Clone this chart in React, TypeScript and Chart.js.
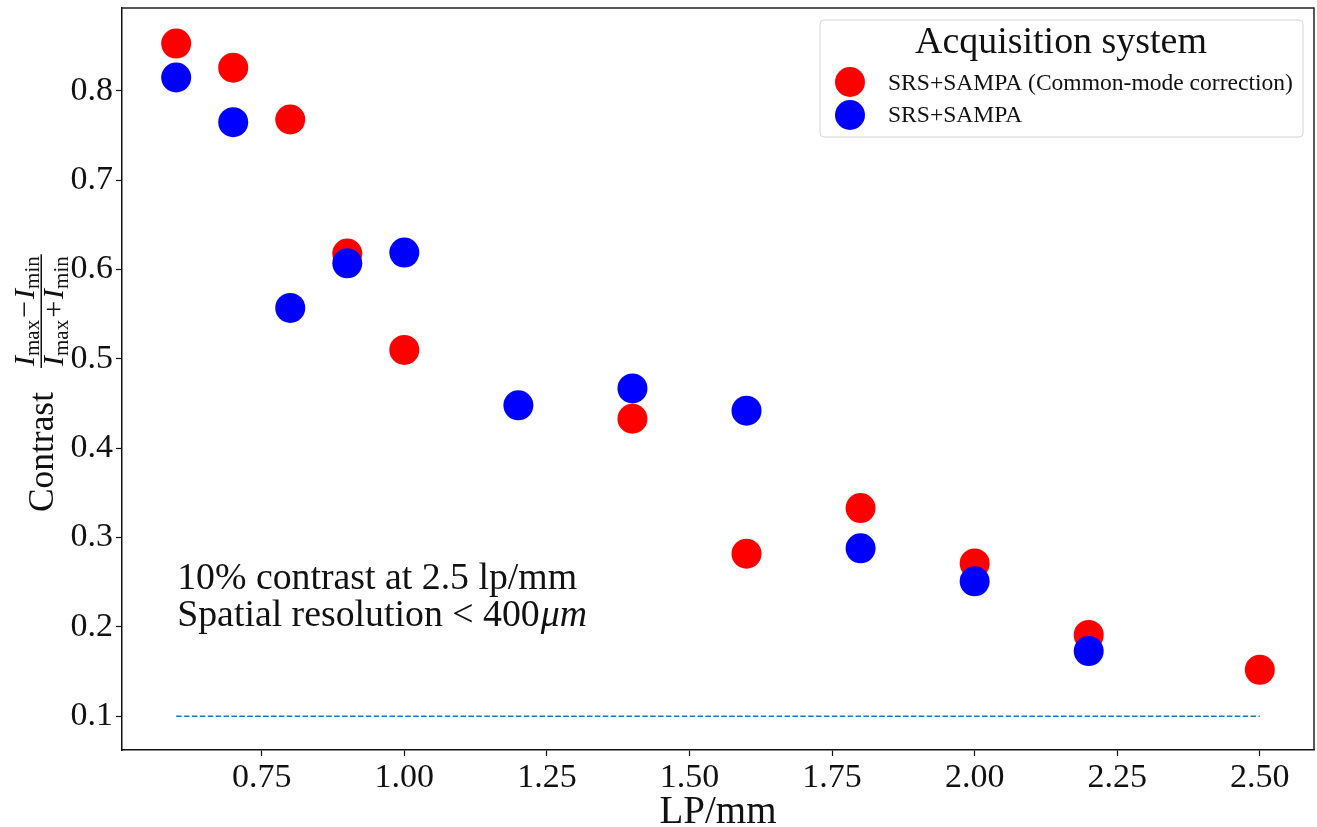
import { useEffect, useRef } from "react";
import { Chart, registerables } from "chart.js";

Chart.register(...registerables);

// ---------- data ----------
const correctedLp = [0.6, 0.7, 0.8, 0.9, 1.0, 1.4, 1.6, 1.8, 2.0, 2.2, 2.5];
const correctedContrast = [0.853, 0.826, 0.768, 0.618, 0.51, 0.433, 0.282, 0.333, 0.271, 0.191, 0.152];
const rawLp = [0.6, 0.7, 0.8, 0.9, 1.0, 1.2, 1.4, 1.6, 1.8, 2.0, 2.2];
const rawContrast = [0.815, 0.765, 0.557, 0.607, 0.619, 0.448, 0.467, 0.442, 0.288, 0.251, 0.173];
const thresholdLp = [0.6, 2.5];
const thresholdContrast = [0.1, 0.1];
const xTickValues = [0.75, 1.0, 1.25, 1.5, 1.75, 2.0, 2.25, 2.5];
const yTickValues = [0.1, 0.2, 0.3, 0.4, 0.5, 0.6, 0.7, 0.8];
const seriesLabels = ["SRS+SAMPA (Common-mode correction)", "SRS+SAMPA"];
const seriesColors = ["#ff0000", "#0000ff"];
const legendTitle = "Acquisition system";
const xAxisTitle = "LP/mm";
const yAxisWord = "Contrast";
const noteLine1 = "10% contrast at 2.5 lp/mm";
const noteLine2a = "Spatial resolution < 400";
const noteLine2b = "μm";

const FONT = "'Liberation Serif', 'DejaVu Serif', serif";

function fitFont(ctx: CanvasRenderingContext2D, text: string, width: number, style = "") {
  ctx.font = `${style} 100px ${FONT}`;
  const w = ctx.measureText(text).width;
  return (100 * width) / w;
}

const decorPlugin = {
  id: "decor",
  afterDraw(chart: any) {
    const ctx: CanvasRenderingContext2D = chart.ctx;
    const { chartArea } = chart;
    const xs = chart.scales.x;
    const ys = chart.scales.y;
    ctx.save();

    // top & right frame
    ctx.strokeStyle = "#222";
    ctx.lineWidth = 1.5;
    ctx.beginPath();
    ctx.moveTo(chartArea.left, chartArea.top);
    ctx.lineTo(chartArea.right, chartArea.top);
    ctx.lineTo(chartArea.right, chartArea.bottom);
    ctx.stroke();

    ctx.fillStyle = "#111";
    ctx.textBaseline = "alphabetic";

    // x axis title
    const xs1 = fitFont(ctx, xAxisTitle, 117);
    ctx.font = `${xs1}px ${FONT}`;
    ctx.textAlign = "center";
    ctx.fillText(xAxisTitle, (chartArea.left + chartArea.right) / 2, 823);

    // y axis title (rotated)
    ctx.save();
    ctx.translate(0, 512);
    ctx.rotate(-Math.PI / 2);
    ctx.textAlign = "left";
    const cs = fitFont(ctx, yAxisWord, 120);
    ctx.font = `${cs}px ${FONT}`;
    ctx.fillText(yAxisWord, 0, 53);

    const big = 30;
    const small = 21;
    const drawSeq = (pieces: any[], u0: number, base: number, draw: boolean) => {
      let u = u0;
      for (const p of pieces) {
        ctx.font = p.font;
        if (draw) ctx.fillText(p.t, u + (p.pre || 0), base + (p.dy || 0));
        u += ctx.measureText(p.t).width + (p.pre || 0) + (p.post || 0);
      }
      return u - u0;
    };
    const num = [
      { t: "I", font: `italic ${big}px ${FONT}` },
      { t: "max", font: `${small}px ${FONT}`, dy: 5 },
      { t: "−", font: `${big}px ${FONT}`, pre: 2, post: 2 },
      { t: "I", font: `italic ${big}px ${FONT}` },
      { t: "min", font: `${small}px ${FONT}`, dy: 5 },
    ];
    const den = [
      { t: "I", font: `italic ${big}px ${FONT}` },
      { t: "max", font: `${small}px ${FONT}`, dy: 5 },
      { t: "+", font: `${big}px ${FONT}`, pre: 2, post: 2 },
      { t: "I", font: `italic ${big}px ${FONT}` },
      { t: "min", font: `${small}px ${FONT}`, dy: 5 },
    ];
    const nw = drawSeq(num, 0, 0, false);
    const dw = drawSeq(den, 0, 0, false);
    const fracStart = 144;
    const barW = Math.max(nw, dw) + 4;
    drawSeq(num, fracStart + (barW - nw) / 2, 34, true);
    drawSeq(den, fracStart + (barW - dw) / 2, 63, true);
    ctx.fillRect(fracStart, 40.5, barW, 1.5);
    ctx.restore();

    // annotation
    ctx.textAlign = "left";
    const ax = xs.getPixelForValue(0.6) + 1;
    const as1 = fitFont(ctx, noteLine1, 400);
    ctx.font = `${as1}px ${FONT}`;
    ctx.fillText(noteLine1, ax, ys.getPixelForValue(0.242));
    const y2 = ys.getPixelForValue(0.2007);
    ctx.fillText(noteLine2a, ax, y2);
    const w2 = ctx.measureText(noteLine2a).width;
    ctx.font = `italic ${as1}px ${FONT}`;
    ctx.fillText(noteLine2b, ax + w2 + 1, y2);

    // legend
    const bx = 820, by = 20, bw = 483, bh = 117;
    ctx.beginPath();
    ctx.roundRect(bx, by, bw, bh, 4);
    ctx.fillStyle = "rgba(255,255,255,0.85)";
    ctx.fill();
    ctx.strokeStyle = "#d4d4d4";
    ctx.lineWidth = 1;
    ctx.stroke();
    ctx.fillStyle = "#111";
    const ts = fitFont(ctx, legendTitle, 292);
    ctx.font = `${ts}px ${FONT}`;
    ctx.textAlign = "center";
    ctx.fillText(legendTitle, 1061, 53);
    const is = fitFont(ctx, seriesLabels[0], 405);
    ctx.textAlign = "left";
    const rowY = [82, 115];
    const baseY = [90, 122];
    for (let i = 0; i < 2; i++) {
      ctx.beginPath();
      ctx.arc(850, rowY[i], 15, 0, Math.PI * 2);
      ctx.fillStyle = seriesColors[i];
      ctx.fill();
      ctx.fillStyle = "#111";
      ctx.font = `${is}px ${FONT}`;
      ctx.fillText(seriesLabels[i], 888, baseY[i]);
    }
    ctx.restore();
  },
};

function zeroPad(s: any) {
  s.paddingTop = 0;
  s.paddingBottom = 0;
  s.paddingLeft = 0;
  s.paddingRight = 0;
}

export default function App() {
  const ref = useRef<HTMLCanvasElement | null>(null);
  useEffect(() => {
    document.body.style.margin = "0";
    const canvas = ref.current!;
    const chart = new Chart(canvas, {
      type: "scatter",
      data: {
        datasets: [
          {
            type: "line",
            label: "threshold",
            data: thresholdLp.map((x, i) => ({ x, y: thresholdContrast[i] })),
            borderColor: "#1f77b4",
            borderWidth: 1.5,
            borderDash: [5.5, 2.4],
            pointRadius: 0,
            fill: false,
            order: 3,
          } as any,
          {
            label: seriesLabels[0],
            data: correctedLp.map((x, i) => ({ x, y: correctedContrast[i] })),
            backgroundColor: seriesColors[0],
            borderColor: seriesColors[0],
            borderWidth: 0,
            pointRadius: 15,
            pointHoverRadius: 15,
            order: 2,
          },
          {
            label: seriesLabels[1],
            data: rawLp.map((x, i) => ({ x, y: rawContrast[i] })),
            backgroundColor: seriesColors[1],
            borderColor: seriesColors[1],
            borderWidth: 0,
            pointRadius: 15,
            pointHoverRadius: 15,
            order: 1,
          },
        ],
      },
      options: {
        animation: false,
        responsive: true,
        maintainAspectRatio: false,
        layout: { autoPadding: false, padding: { top: 8, right: 3, left: 0, bottom: 0 } },
        plugins: {
          legend: { display: false },
          tooltip: { enabled: false },
        },
        scales: {
          x: {
            type: "linear",
            min: 0.505,
            max: 2.595,
            afterBuildTicks: (s: any) => {
              s.ticks = xTickValues.map((v) => ({ value: v }));
            },
            afterFit: (s: any) => {
              s.height = 77;
              zeroPad(s);
            },
            ticks: {
              callback: (v: any) => Number(v).toFixed(2),
              color: "#111",
              font: { family: FONT, size: 34 },
              padding: 2,
              maxRotation: 0,
              autoSkip: false,
            },
            grid: { drawOnChartArea: false, drawTicks: true, tickLength: 6, color: "#111", tickWidth: 1.2 },
            border: { display: true, color: "#111", width: 1.5 },
          },
          y: {
            type: "linear",
            min: 0.0622,
            max: 0.8928,
            afterBuildTicks: (s: any) => {
              s.ticks = yTickValues.map((v) => ({ value: v }));
            },
            afterFit: (s: any) => {
              s.width = 122;
              zeroPad(s);
            },
            ticks: {
              callback: (v: any) => Number(v).toFixed(1),
              color: "#111",
              font: { family: FONT, size: 34 },
              padding: 3,
              autoSkip: false,
            },
            grid: { drawOnChartArea: false, drawTicks: true, tickLength: 6, color: "#111", tickWidth: 1.2 },
            border: { display: true, color: "#111", width: 1.5 },
          },
        },
      },
      plugins: [decorPlugin],
    });
    return () => chart.destroy();
  }, []);
  return (
    <div style={{ position: "absolute", left: 0, top: 0, width: 1317, height: 827 }}>
      <canvas ref={ref} />
    </div>
  );
}
